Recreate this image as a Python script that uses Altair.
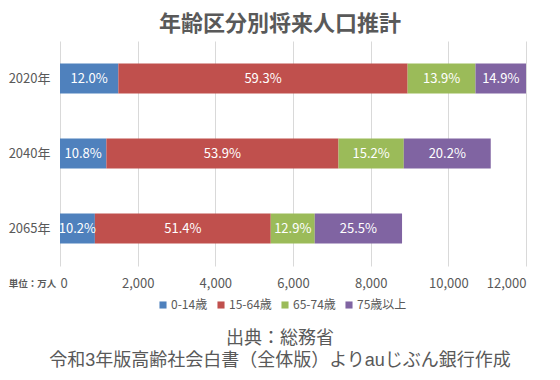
import altair as alt
import pandas as pd

years = ["2020年", "2040年", "2065年"]
groups = ["0-14歳", "15-64歳", "65-74歳", "75歳以上"]
colors = ["#4F81BD", "#C0504D", "#9BBB59", "#8064A2"]
# population (万人) per year, in group order
pop_2020 = [1503, 7449, 1747, 1872]
pop_2040 = [1194, 5978, 1681, 2239]
pop_2065 = [898, 4529, 1133, 2248]
# share labels (%) per year, in group order
pct_2020 = [12.0, 59.3, 13.9, 14.9]
pct_2040 = [10.8, 53.9, 15.2, 20.2]
pct_2065 = [10.2, 51.4, 12.9, 25.5]
x_ticks = [0, 2000, 4000, 6000, 8000, 10000, 12000]
title_text = "年齢区分別将来人口推計"
unit_text = "単位：万人"
source_line1 = "出典：総務省"
source_line2 = "令和3年版高齢社会白書（全体版）よりauじぶん銀行作成"

rows = []
for y, pops, pcts in zip(years, [pop_2020, pop_2040, pop_2065], [pct_2020, pct_2040, pct_2065]):
    for i, (g, v, p) in enumerate(zip(groups, pops, pcts)):
        rows.append({"year": y, "group": g, "order": i, "value": v, "pct": p})
df = pd.DataFrame(rows)

FONT = "Noto Sans CJK JP"
SRC_FONT = "Liberation Sans, Noto Sans CJK JP"
GREY = "#595959"
XMAX = x_ticks[-1]

base = alt.Chart(df).transform_stack(
    stack="value", groupby=["year"], as_=["x0", "x1"], sort=[alt.SortField("order")]
)

yenc = alt.Y(
    "year:N",
    sort=years,
    scale=alt.Scale(paddingInner=0.6, paddingOuter=0.3),
    axis=alt.Axis(title=None, domain=False, ticks=False, labelFontSize=13,
                  labelColor=GREY, labelPadding=10, labelFont=FONT),
)

bars = base.mark_bar(clip=True).encode(
    y=yenc,
    x=alt.X(
        "x0:Q",
        scale=alt.Scale(domain=[0, XMAX], nice=False, zero=True),
        axis=alt.Axis(
            values=x_ticks, format=",.0f", domain=False, ticks=False, tickSize=0,
            labelFontSize=13, labelColor=GREY, labelPadding=11, labelFont=FONT,
            gridColor="#D9D9D9", gridWidth=1,
            title=unit_text, titleX=-28, titleY=17, titleAlign="center",
            titleBaseline="middle", titleFontSize=9.5, titleFontWeight="bold",
            titleColor=GREY, titleFont=FONT, titleAngle=0,
        ),
    ),
    x2="x1:Q",
    color=alt.Color(
        "group:N",
        scale=alt.Scale(domain=groups, range=colors),
        legend=alt.Legend(
            title=None, orient="none", legendX=97, legendY=258,
            direction="horizontal", symbolType="square", symbolSize=50,
            symbolStrokeWidth=0, labelFontSize=12, labelColor=GREY,
            labelFont=FONT, columnPadding=7, labelOffset=2, padding=0,
        ),
    ),
    order=alt.Order("order:Q"),
)

labels = base.transform_calculate(
    mid=f"(min(datum.x0,{XMAX})+min(datum.x1,{XMAX}))/2",
    label="format(datum.pct,'.1f') + '%'",
).mark_text(color="white", fontSize=13, font=FONT, baseline="middle", align="center").encode(
    y=alt.Y("year:N", sort=years),
    x=alt.X("mid:Q"),
    text="label:N",
)

title = alt.Chart(pd.DataFrame({"t": [title_text]})).mark_text(
    fontSize=22, fontWeight="bold", color=GREY, font=SRC_FONT, align="center", baseline="middle"
).encode(x=alt.value(220), y=alt.value(-17), text="t:N")

src1 = alt.Chart(pd.DataFrame({"t": [source_line1]})).mark_text(
    fontSize=18, color=GREY, font=SRC_FONT, align="center", baseline="middle",
).encode(x=alt.value(220), y=alt.value(298), text="t:N")

src2 = alt.Chart(pd.DataFrame({"t": [source_line2]})).mark_text(
    fontSize=18, color=GREY, font=SRC_FONT, align="center", baseline="middle",
).encode(x=alt.value(220), y=alt.value(320), text="t:N")

chart = alt.layer(bars, labels, title, src1, src2).properties(
    width=466, height=225,
    autosize=alt.AutoSizeParams(type="none"),
    padding={"left": 52, "top": 33, "right": 26, "bottom": 106},
    background="white",
).configure_view(stroke=None)

chart.save("out.html", embed_options={"renderer": "svg", "actions": False})
